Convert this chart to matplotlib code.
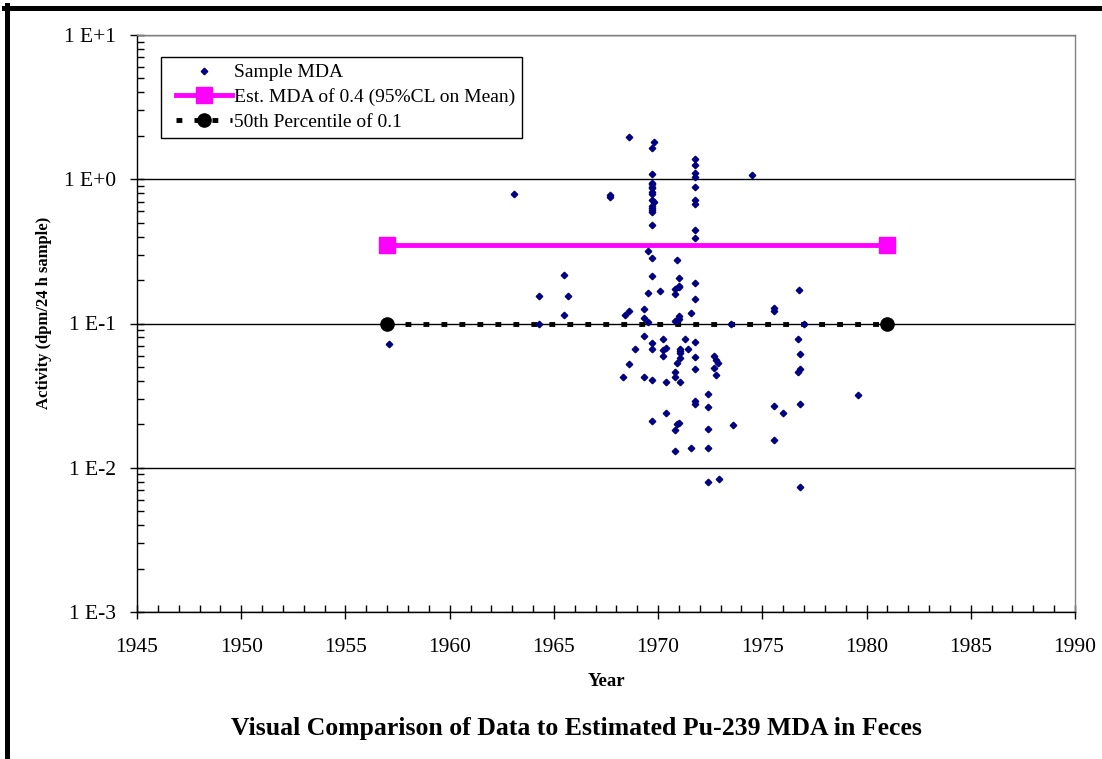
import matplotlib
matplotlib.use('Agg')
import matplotlib.pyplot as plt
from matplotlib.lines import Line2D
from matplotlib.legend_handler import HandlerLine2D
from matplotlib.ticker import FixedLocator, LogLocator, MultipleLocator, NullFormatter

plt.rcParams['font.family'] = ['Liberation Serif', 'DejaVu Serif']

# Sample MDA values (year, dpm/24 h sample)
sample_year = [
    1957.1, 1963.1, 1964.3, 1964.3, 1965.5, 1965.7, 1965.5, 1967.7, 1967.7,
    1968.3, 1968.4, 1968.6, 1968.6, 1968.6, 1968.9,
    1969.3, 1969.3, 1969.3, 1969.3, 1969.5, 1969.5, 1969.5,
    1969.8, 1969.7, 1969.7, 1969.7, 1969.7, 1969.7, 1969.7, 1969.7, 1969.7,
    1969.7, 1969.8, 1969.7, 1969.7, 1969.7, 1969.7, 1969.7, 1969.7, 1969.7,
    1969.7, 1969.7, 1969.7, 1969.7,
    1970.1, 1970.25, 1970.25, 1970.25, 1970.4, 1970.4, 1970.4,
    1970.8, 1970.8, 1970.8, 1970.8, 1970.8, 1970.8, 1970.8,
    1970.9, 1970.9, 1970.9, 1970.9,
    1971.0, 1971.0, 1971.0, 1971.0, 1971.0, 1971.0,
    1971.05, 1971.05, 1971.05, 1971.05, 1971.05,
    1971.3, 1971.45, 1971.6, 1971.6,
    1971.75, 1971.75, 1971.75, 1971.75, 1971.75, 1971.75, 1971.75, 1971.75,
    1971.75, 1971.75, 1971.75, 1971.75, 1971.75, 1971.75, 1971.75, 1971.75,
    1972.4, 1972.4, 1972.4, 1972.4, 1972.4,
    1972.7, 1972.8, 1972.85, 1972.7, 1972.8, 1972.9,
    1973.5, 1973.6, 1974.5,
    1975.55, 1975.55, 1975.55, 1975.55, 1976.0,
    1976.75, 1976.7, 1976.8, 1976.8, 1976.7, 1976.8, 1976.8, 1977.0, 1979.6,
]
sample_mda = [
    0.072, 0.79, 0.156, 0.099, 0.216, 0.156, 0.114, 0.774, 0.753,
    0.0427, 0.114, 1.96, 0.123, 0.0522, 0.067,
    0.126, 0.110, 0.0817, 0.0427, 0.318, 0.162, 0.103,
    1.82, 1.65, 1.09, 0.94, 0.92, 0.89, 0.875, 0.82, 0.786,
    0.715, 0.695, 0.65, 0.629, 0.609, 0.593, 0.48, 0.286, 0.212,
    0.073, 0.067, 0.0408, 0.021,
    0.168, 0.0787, 0.065, 0.0593, 0.0678, 0.0393, 0.024,
    0.174, 0.161, 0.104, 0.0462, 0.0427, 0.0182, 0.013,
    0.277, 0.105, 0.0533, 0.0200,
    0.208, 0.182, 0.179, 0.112, 0.108, 0.0204,
    0.0668, 0.064, 0.0626, 0.0577, 0.0393,
    0.0778, 0.0668, 0.119, 0.0138,
    1.38, 1.25, 1.11, 1.04, 0.89, 0.715, 0.674, 0.448,
    0.389, 0.19, 0.148, 0.075, 0.0583, 0.0484, 0.029, 0.0276,
    0.0327, 0.0264, 0.0185, 0.0137, 0.008,
    0.06, 0.056, 0.0533, 0.0492, 0.0438, 0.00835,
    0.099, 0.0198, 1.07,
    0.128, 0.123, 0.027, 0.0156, 0.024,
    0.17, 0.0787, 0.0612, 0.048, 0.046, 0.0276, 0.0074, 0.099, 0.0318,
]

est_years = [1957, 1981]
est_mda = [0.35, 0.35]
pct50_years = [1957, 1981]
pct50_mda = [0.1, 0.1]

ytick_values = [1e-3, 1e-2, 1e-1, 1e0, 1e1]
ytick_labels = ['1 E-3', '1 E-2', '1 E-1', '1 E+0', '1 E+1']

W, H = 1102, 759
fig = plt.figure(figsize=(W / 100, H / 100), dpi=100)
ax = fig.add_axes([137 / W, 1 - 612 / H, 938 / W, 577 / H])

ax.set_yscale('log')
ax.set_ylim(1e-3, 1e1)
ax.set_xlim(1945, 1990)

ax.grid(axis='y', which='major', color='black', lw=1.0)
ax.set_axisbelow(True)

ax.plot(est_years, est_mda, color='#FF00FF', lw=3.5, marker='s', ms=11,
        label='Est. MDA of 0.4 (95%CL on Mean)', zorder=3)
ax.plot(pct50_years, pct50_mda, color='black', lw=3.5, ls=(0, (1.2, 2.5)),
        dash_capstyle='butt', marker='o', ms=9.5,
        label='50th Percentile of 0.1', zorder=3)
ax.plot(sample_year, sample_mda, ls='none', marker='D', ms=3.3,
        color='#000080', label='Sample MDA', zorder=4)

ax.yaxis.set_major_locator(FixedLocator(ytick_values))
ax.set_yticklabels(ytick_labels)
ax.yaxis.set_minor_locator(LogLocator(base=10, subs=range(2, 10)))
ax.yaxis.set_minor_formatter(NullFormatter())
ax.xaxis.set_major_locator(MultipleLocator(5))
ax.xaxis.set_minor_locator(MultipleLocator(1))

ax.tick_params(which='major', direction='inout', length=10, width=1,
               labelsize=15.5, color='black')
ax.tick_params(axis='y', which='major', pad=10)
ax.tick_params(axis='x', which='major', pad=13.5)
ax.tick_params(which='minor', direction='in', length=5, width=1)

for s in ['left', 'bottom']:
    ax.spines[s].set_color('black')
    ax.spines[s].set_linewidth(1.0)
for s in ['top', 'right']:
    ax.spines[s].set_color('#808080')
    ax.spines[s].set_linewidth(1.0)

handles, labels = ax.get_legend_handles_labels()
order = [2, 0, 1]
leg = ax.legend([handles[i] for i in order], [labels[i] for i in order],
                loc='upper left', bbox_to_anchor=(161 / W, 1 - 57 / H),
                bbox_transform=fig.transFigure, fancybox=False,
                edgecolor='black', framealpha=1, fontsize=14,
                handlelength=3.3, handletextpad=0.1, borderpad=0.35,
                labelspacing=0.36, borderaxespad=0, numpoints=1,
                handler_map={Line2D: HandlerLine2D(xpad=0.42)})
leg.get_frame().set_linewidth(1.0)

fig.text(44 / W, 1 - 313 / H, 'Activity (dpm/24 h sample)', rotation=90,
         ha='center', va='center', fontsize=12, fontweight='bold')
fig.text(606 / W, 1 - 682 / H, 'Year', ha='center', va='center',
         fontsize=13.5, fontweight='bold')
fig.text(576 / W, 1 - 729 / H,
         'Visual Comparison of Data to Estimated Pu-239 MDA in Feces',
         ha='center', va='center', fontsize=18.5, fontweight='bold')

# thick chart border (left and top edges visible)
fig.add_artist(Line2D([6.5 / W, 6.5 / W], [0, 1 - 5 / H],
                      transform=fig.transFigure, color='black', lw=3.6))
fig.add_artist(Line2D([4 / W, 1], [1 - 7.5 / H, 1 - 7.5 / H],
                      transform=fig.transFigure, color='black', lw=3.6))

fig.savefig('out.png', dpi=100)
